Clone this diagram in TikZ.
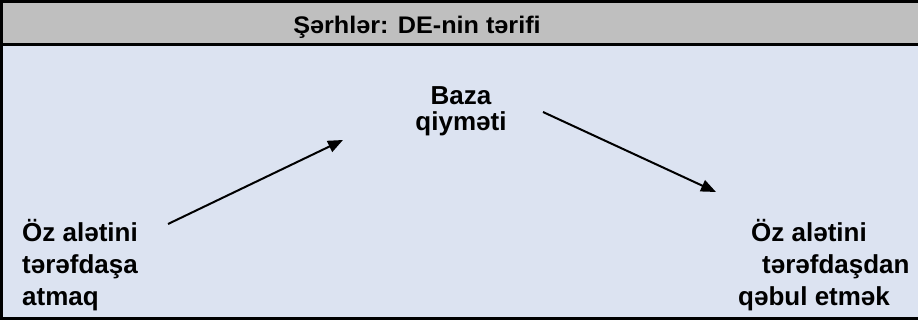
\documentclass[tikz,border=0pt]{standalone}
\usepackage{fontspec}
\setmainfont{Liberation Sans}
\newfontfamily\headfont[FakeStretch=1.05]{Liberation Sans}
\usetikzlibrary{arrows.meta,positioning}
\definecolor{headgray}{HTML}{BFBFBF}
\definecolor{bodyblue}{HTML}{DCE3F1}

\begin{document}
\begin{tikzpicture}[x=1pt,y=-1pt,>={Triangle[length=15pt,width=12pt]},
  every node/.style={font=\bfseries\fontsize{26}{32}\selectfont,inner sep=0pt},
  frame/.style={line width=3.5pt},
  flow/.style={->,line width=2pt}]
\useasboundingbox (0,0) rectangle (918,320);
% panel
\fill[bodyblue] (0,0) rectangle (918,320);
\fill[headgray] (0,0) rectangle (918,45);
\draw[frame] (920,1.5) -- (1.5,1.5) -- (1.5,318.5) -- (920,318.5);
\draw[frame] (0,44.5) -- (920,44.5);
% texts
\node[font=\headfont\bfseries\fontsize{24}{24}\selectfont,anchor=base] (head) at (417,34) {Şərhlər: DE-nin tərifi};
\node[align=center,font=\bfseries\fontsize{26}{26}\selectfont,anchor=north] (baza) at (461,86) {Baza\\qiyməti};
\node[align=left,anchor=north west] (give) at (22,219) {Öz alətini\\tərəfdaşa\\atmaq};
\node[align=left,anchor=north west] (take) at (738,219) {\hspace*{13pt}Öz alətini\\\hspace*{24pt}tərəfdaşdan\\qəbul etmək};
% arrows
\coordinate (giveend) at (168,224);
\coordinate (bazain) at (343,140);
\coordinate (bazaout) at (543,112);
\coordinate (takeend) at (716,192);
\draw[flow] (giveend) -- (bazain);
\draw[flow] (bazaout) -- (takeend);
\end{tikzpicture}
\end{document}
